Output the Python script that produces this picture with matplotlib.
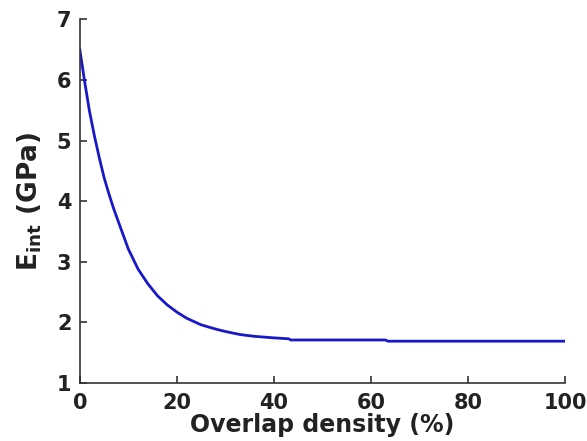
import matplotlib
matplotlib.use("Agg")
import matplotlib.pyplot as plt

overlap = [0, 1, 2, 3, 4, 5, 6, 7, 8, 10, 12, 14, 16, 18, 20, 22, 25, 28, 30, 33, 36, 40, 43, 43.5, 63, 63.5, 100]
e_int = [6.5, 5.97, 5.48, 5.08, 4.72, 4.39, 4.12, 3.87, 3.65, 3.21, 2.88, 2.64, 2.44, 2.29, 2.17, 2.07, 1.96, 1.89, 1.85, 1.80, 1.77, 1.745, 1.73, 1.71, 1.71, 1.69, 1.69]

xticks = [0, 20, 40, 60, 80, 100]
yticks = [1, 2, 3, 4, 5, 6, 7]

fig = plt.figure(figsize=(5.87, 4.41), dpi=100)
ax = fig.add_axes([0.136, 0.1315, 0.8265, 0.8245])
ax.plot(overlap, e_int, color="#1818c8", lw=2.0)
ax.set_xlim(0, 100)
ax.set_ylim(1, 7)
ax.set_xticks(xticks)
ax.set_yticks(yticks)
for s in ["top", "right"]:
    ax.spines[s].set_visible(False)
for s in ["left", "bottom"]:
    ax.spines[s].set_color("#333333")
    ax.spines[s].set_linewidth(1.2)
ax.tick_params(direction="in", length=5, width=1.2, color="#333333",
               labelsize=15, labelcolor="#222222")
ax.tick_params(axis="x", pad=7)
ax.tick_params(axis="y", pad=6)
for lab in ax.get_xticklabels() + ax.get_yticklabels():
    lab.set_fontweight("bold")
ax.set_xlabel("Overlap density (%)", fontsize=17, fontweight="bold", color="#222222", labelpad=0)
ax.set_ylabel(r"$\mathbf{E_{int}}$ (GPa)", fontsize=19, fontweight="bold", color="#222222", labelpad=9)
fig.savefig("out.png", dpi=100)
